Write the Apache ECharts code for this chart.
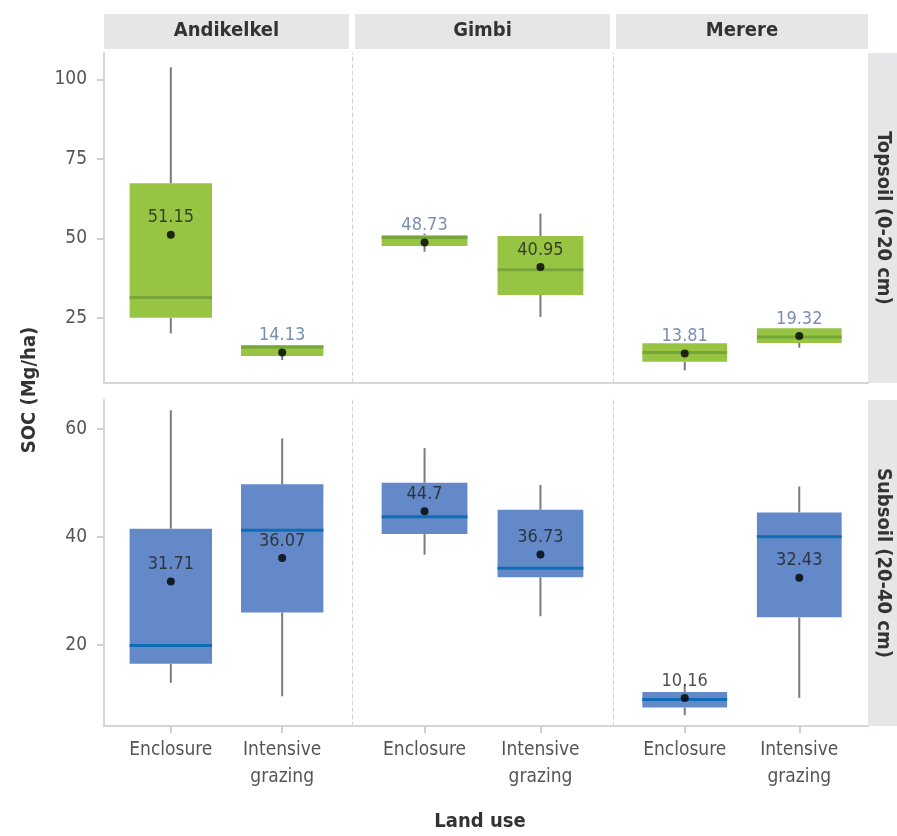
<!DOCTYPE html>
<html>
<head>
<meta charset="utf-8">
<title>SOC by land use</title>
<script src="https://cdn.jsdelivr.net/npm/echarts@6/dist/echarts.min.js"></script>
<style>
  html, body { margin: 0; padding: 0; background: #fff; }
  #main { width: 897px; height: 836px; }
</style>
</head>
<body>
<div id="main"></div>
<script>
// facets and categories
const sites = ["Andikelkel", "Gimbi", "Merere"];
const depths = ["Topsoil (0-20 cm)", "Subsoil (20-40 cm)"];
const landUse = ["Enclosure", "Intensive\ngrazing"];

// [min, Q1, median, Q3, max] per site: Enclosure, Intensive grazing
const topsoilBoxes = [
  [[20.1, 25.0, 31.4, 67.3, 103.8], [11.7, 13.0, 15.8, 16.4, 16.4]],
  [[45.8, 47.6, 50.3, 51.0, 51.5], [25.3, 32.2, 40.1, 50.7, 57.8]],
  [[8.5, 11.2, 14.1, 17.0, 17.0], [15.6, 17.1, 19.0, 21.7, 21.7]],
];
const subsoilBoxes = [
  [[13.0, 16.5, 19.9, 41.5, 63.4], [10.5, 26.0, 41.2, 49.7, 58.2]],
  [[36.7, 40.5, 43.7, 50.0, 56.4], [25.3, 32.5, 34.2, 45.0, 49.6]],
  [[7.0, 8.4, 9.9, 11.3, 12.6], [10.2, 25.1, 40.0, 44.5, 49.3]],
];
const topsoilMeans = [[51.15, 14.13], [48.73, 40.95], [13.81, 19.32]];
const subsoilMeans = [[31.71, 36.07], [44.7, 36.73], [10.16, 32.43]];

const topsoilTicks = [25, 50, 75, 100];
const subsoilTicks = [20, 40, 60];

// styles / layout
const FONT = '"Liberation Sans Narrow", "DejaVu Sans Condensed", "Roboto", sans-serif';
const colLeft = [104, 355, 616];
const colWidth = [245, 255, 252];
const rowTop = [53, 400];
const rowHeight = [330, 326];
const yRange = [[4.5, 108.3], [5.0, 65.3]];
const rowTicks = [topsoilTicks, subsoilTicks];
const rowBoxes = [topsoilBoxes, subsoilBoxes];
const rowMeans = [topsoilMeans, subsoilMeans];
const boxFill = ["#97c443", "#6489c8"];
const medianColor = ["#76a63a", "#0f6cb9"];
const whiskerColor = "#7b7b7b";
const BLK = "#1e1e1e", BLU = "#5a70a3";
const labelColors = [
  [[BLK, BLU], [BLU, BLK], [BLU, BLU]],
  [[BLK, BLK], [BLK, BLK], [BLK, BLK]],
];
const boxWidth = 0.74;
const stripBg = "#e5e6e8";
const stripText = "#333333";
const tickText = "#555555";

const myChart = echarts.init(document.getElementById("main"));

function makeRender(row) {
  return function (params, api) {
    const x = api.value(0);
    const lo = api.coord([x, api.value(1)]);
    const q1 = api.coord([x, api.value(2)]);
    const med = api.coord([x, api.value(3)]);
    const q3 = api.coord([x, api.value(4)]);
    const hi = api.coord([x, api.value(5)]);
    const half = api.size([boxWidth, 0])[0] / 2;
    return {
      type: "group",
      children: [
        { type: "line", shape: { x1: lo[0], y1: lo[1], x2: q1[0], y2: q1[1] },
          style: { stroke: whiskerColor, lineWidth: 2 } },
        { type: "line", shape: { x1: q3[0], y1: q3[1], x2: hi[0], y2: hi[1] },
          style: { stroke: whiskerColor, lineWidth: 2 } },
        { type: "rect", shape: { x: q1[0] - half, y: q3[1], width: half * 2, height: q1[1] - q3[1] },
          style: { fill: boxFill[row] } },
        { type: "line", shape: { x1: med[0] - half, y1: med[1], x2: med[0] + half, y2: med[1] },
          style: { stroke: medianColor[row], lineWidth: 3 } },
      ],
    };
  };
}

const grid = [], xAxis = [], yAxis = [], series = [], graphic = [];

depths.forEach(function (depth, r) {
  sites.forEach(function (site, c) {
    const gi = r * 3 + c;
    grid.push({ left: colLeft[c], top: rowTop[r], width: colWidth[c], height: rowHeight[r] });
    xAxis.push({
      type: "value", gridIndex: gi, min: -0.6, max: 1.6,
      splitLine: { show: false },
      axisLine: { show: true, onZero: false, lineStyle: { color: "#d6d6d6", width: 2 } },
      axisTick: { show: r === 1, customValues: [0, 1], length: 7, lineStyle: { color: "#cfcfcf", width: 2 } },
      axisLabel: {
        show: r === 1, customValues: [0, 1], margin: 11,
        color: tickText, fontSize: 19, fontFamily: FONT, lineHeight: 27,
        formatter: function (v) { return landUse[Math.round(v)]; },
      },
    });
    yAxis.push(c === 0 ? {
      type: "value", gridIndex: gi, min: yRange[r][0], max: yRange[r][1],
      splitLine: { show: false },
      axisLine: { show: true, onZero: false, lineStyle: { color: "#d6d6d6", width: 2 } },
      axisTick: { show: true, customValues: rowTicks[r], length: 7, lineStyle: { color: "#cfcfcf", width: 2 } },
      axisLabel: { customValues: rowTicks[r], color: tickText, fontSize: 19, fontFamily: FONT, margin: 17 },
    } : {
      type: "value", gridIndex: gi, min: yRange[r][0], max: yRange[r][1], offset: 3,
      splitLine: { show: false },
      axisLine: { show: true, onZero: false, lineStyle: { color: "#d2d2d2", width: 1, type: [4, 3] } },
      axisTick: { show: false },
      axisLabel: { show: false },
    });

    series.push({
      type: "custom", xAxisIndex: gi, yAxisIndex: gi,
      renderItem: makeRender(r),
      encode: { x: 0, y: [1, 2, 3, 4, 5] },
      data: rowBoxes[r][c].map(function (b, i) { return [i].concat(b); }),
      z: 2,
    });
    series.push({
      type: "scatter", xAxisIndex: gi, yAxisIndex: gi,
      symbolSize: 8, itemStyle: { color: "#000" }, z: 3,
      data: rowMeans[r][c].map(function (m, i) {
        return { value: [i, m], label: { color: labelColors[r][c][i] } };
      }),
      label: {
        show: true, position: "top", distance: 4,
        fontSize: 18, fontFamily: FONT,
        formatter: function (p) { return String(p.value[1]); },
      },
    });

    if (r === 0) {
      graphic.push({ type: "rect", left: colLeft[c], top: 14, shape: { width: colWidth[c], height: 35 },
        style: { fill: stripBg }, silent: true });
      graphic.push({ type: "text", x: colLeft[c] + colWidth[c] / 2, y: 31,
        style: { text: site, fill: stripText, font: "bold 20px " + FONT, align: "center", verticalAlign: "middle" } });
    }
  });
  graphic.push({ type: "rect", left: 868, top: rowTop[r], shape: { width: 40, height: rowHeight[r] },
    style: { fill: stripBg }, silent: true });
  graphic.push({ type: "text", x: 883, y: rowTop[r] + rowHeight[r] / 2, rotation: -Math.PI / 2,
    style: { text: depth, fill: stripText, font: "bold 20px " + FONT, align: "center", verticalAlign: "middle" } });
});

// continuous bottom line of each row
depths.forEach(function (d, r) {
  const gi = 6 + r;
  grid.push({ left: colLeft[0], top: rowTop[r], width: 868 - colLeft[0], height: rowHeight[r] });
  xAxis.push({ type: "value", gridIndex: gi, min: 0, max: 1,
    axisLine: { onZero: false, lineStyle: { color: "#d6d6d6", width: 2 } },
    axisTick: { show: false }, axisLabel: { show: false }, splitLine: { show: false } });
  yAxis.push({ type: "value", gridIndex: gi, show: false, min: 0, max: 1 });
});

graphic.push({ type: "text", x: 30, y: 390, rotation: Math.PI / 2,
  style: { text: "SOC (Mg/ha)", fill: stripText, font: "bold 20px " + FONT, align: "center", verticalAlign: "middle" } });
graphic.push({ type: "text", x: 480, y: 822,
  style: { text: "Land use", fill: stripText, font: "bold 20px " + FONT, align: "center", verticalAlign: "middle" } });

myChart.setOption({
  animation: false,
  grid: grid,
  xAxis: xAxis,
  yAxis: yAxis,
  series: series,
  graphic: graphic,
});
</script>
</body>
</html>
